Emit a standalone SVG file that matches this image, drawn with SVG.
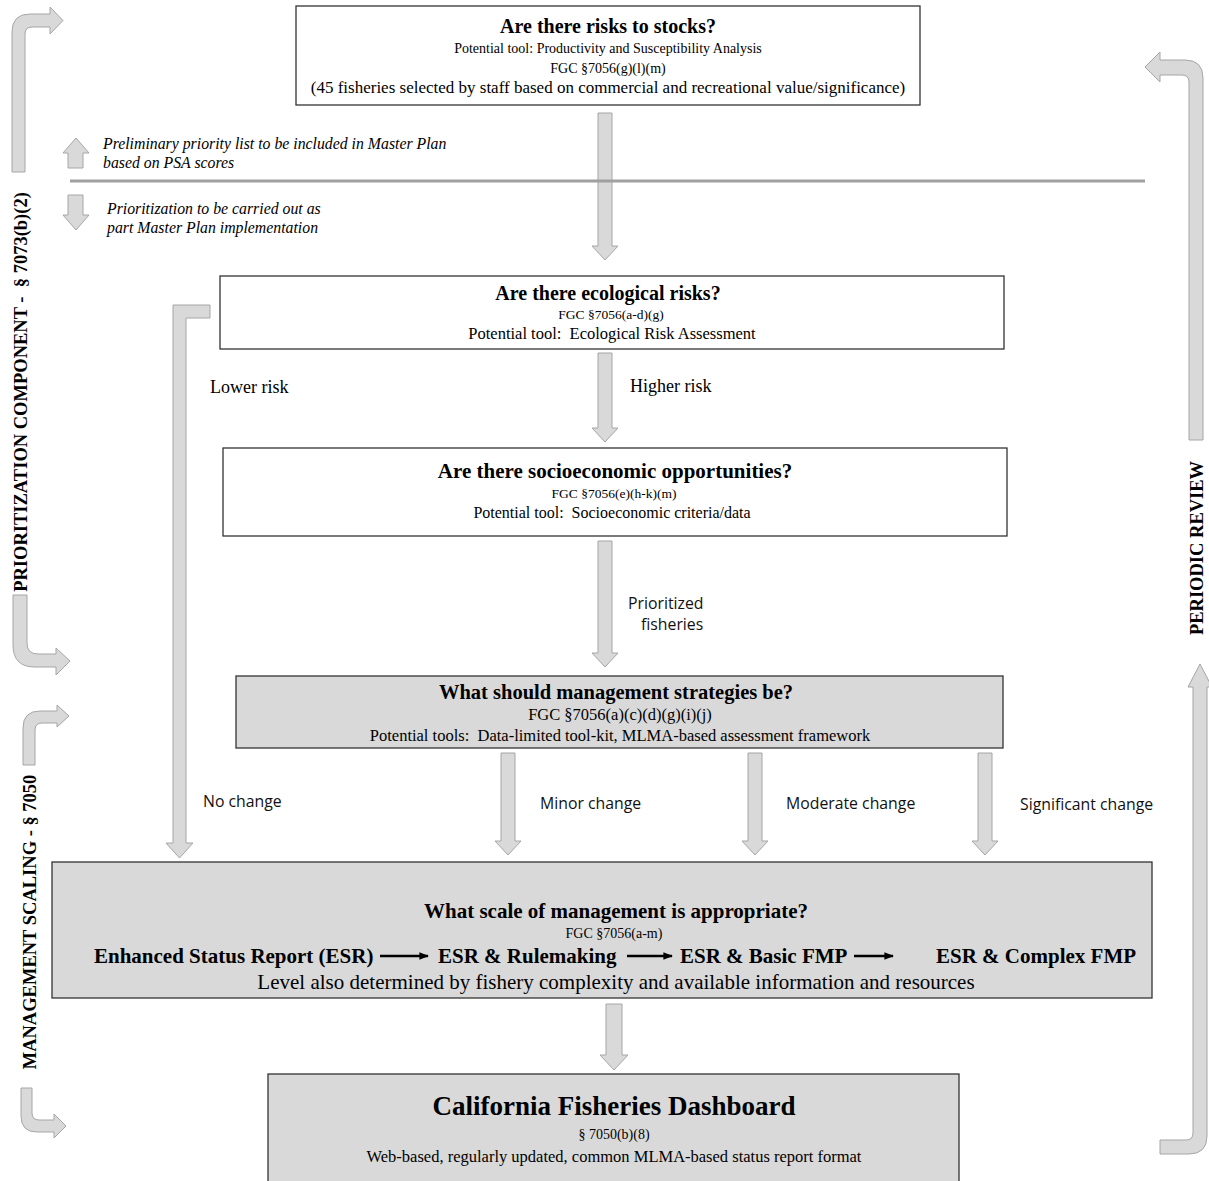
<svg xmlns="http://www.w3.org/2000/svg" width="1209" height="1181" viewBox="0 0 1209 1181">
<defs>
<style>
.box{fill:#ffffff;stroke:#333333;stroke-width:1.3}
.gbox{fill:#d9d9d9;stroke:#333333;stroke-width:1.3}
.blk{fill:#d9d9d9;stroke:#a6a6a6;stroke-width:1}
.t{font-family:"Liberation Serif","Times New Roman",serif;fill:#000}
.h{font-weight:bold;font-size:20px}
.n{font-size:14px}
.m{font-size:16.5px}
.i{font-style:italic;font-size:15.8px}
.s{font-family:"Open Sans","Liberation Sans",sans-serif;font-size:15.8px;fill:#111}
.side{font-family:"Liberation Serif","Times New Roman",serif;font-weight:bold;font-size:18.5px;fill:#000}
</style>
<marker id="ah" viewBox="0 0 10 10" refX="9" refY="5" markerWidth="4" markerHeight="4" orient="auto" markerUnits="strokeWidth">
<path d="M0,1 L10,5 L0,9 Z" fill="#000"/>
</marker>
</defs>
<rect width="1209" height="1181" fill="#ffffff"/>

<g id="connectors">
<path class="blk" d="M598,113 H612 V246 H618 L605,260 L592,246 H598 Z"/>
<path class="blk" d="M598,353 H612 V428 H618 L605,442 L592,428 H598 Z"/>
<path class="blk" d="M598,541 H612 V653 H618 L605,667 L592,653 H598 Z"/>
<path class="blk" d="M501,753 H515 V841 H521 L508,855 L495,841 H501 Z"/>
<path class="blk" d="M748,753 H762 V841 H768 L755,855 L742,841 H748 Z"/>
<path class="blk" d="M978,753 H992 V841 H998 L985,855 L972,841 H978 Z"/>
<path class="blk" d="M606,1004 H622 V1055 H628 L614,1070 L600,1055 H606 Z"/>
<path class="blk" d="M210,305 V318 H186 V843 H193 L179.5,858 L166,843 H173 V305 Z"/>
<line x1="70" y1="181" x2="1145" y2="181" stroke="#a0a0a0" stroke-width="3"/>
<path class="blk" d="M68,168 V153 H63 L76,138 L89,153 H83 V168 Z"/>
<path class="blk" d="M68,195 H83 V215 H89 L76,230 L63,215 H68 Z"/>
<path class="blk" d="M12,172 V32 Q12,14 30,14 H50 V7 L63,20.5 L50,34 V27 H32 Q25,27 25,34 V172 Z"/>
<path class="blk" d="M13,595 H27 V643 Q27,654 38,654 H56 V648 L70,661 L56,675 V667 H35 Q13,667 13,645 Z"/>
<path class="blk" d="M23,765 V728 Q23,711 40,711 H57 V705 L69,716 L57,727 V723 H42 Q35,723 35,730 V765 Z"/>
<path class="blk" d="M21,1088 H32 V1113 Q32,1120 39,1120 H54 V1114 L66,1126 L54,1138 V1132 H37 Q21,1132 21,1116 Z"/>
<path class="blk" d="M1203,440 H1189 V82 Q1189,75 1182,75 H1160 V82 L1145,67 L1160,52 V60 H1185 Q1203,60 1203,78 Z"/>
<path class="blk" d="M1160,1140 H1186 Q1193,1140 1193,1133 V687 H1188 L1200,664 L1212,687 H1207 V1136 Q1207,1154 1189,1154 H1160 Z"/>
</g>

<g id="labels">
<text class="t i" x="103" y="149">Preliminary priority list to be included in Master Plan</text>
<text class="t i" x="103" y="168">based on PSA scores</text>
<text class="t i" x="107" y="214">Prioritization to be carried out as</text>
<text class="t i" x="107" y="233">part Master Plan implementation</text>
<text class="t" x="210" y="393" font-size="18">Lower risk</text>
<text class="t" x="630" y="392" font-size="18">Higher risk</text>
<text class="s" x="628" y="609">Prioritized</text>
<text class="s" x="641" y="630">fisheries</text>
<text class="s" x="203" y="807">No change</text>
<text class="s" x="540" y="809">Minor change</text>
<text class="s" x="786" y="809">Moderate change</text>
<text class="s" x="1020" y="810">Significant change</text>
<text class="side" transform="translate(27,392) rotate(-90)" text-anchor="middle" xml:space="preserve">PRIORITIZATION COMPONENT -  § 7073(b)(2)</text>
<text class="side" transform="translate(36,922) rotate(-90)" text-anchor="middle">MANAGEMENT SCALING - § 7050</text>
<text class="side" transform="translate(1203,548) rotate(-90)" text-anchor="middle">PERIODIC REVIEW</text>
</g>

<g id="node-stocks">
<rect class="box" x="296" y="6" width="624" height="99"/>
<text class="t h" x="608" y="33" text-anchor="middle">Are there risks to stocks?</text>
<text class="t n" x="608" y="53" text-anchor="middle">Potential tool: Productivity and Susceptibility Analysis</text>
<text class="t n" x="608" y="73" text-anchor="middle">FGC §7056(g)(l)(m)</text>
<text class="t" x="608" y="93" font-size="17" text-anchor="middle">(45 fisheries selected by staff based on commercial and recreational value/significance)</text>
</g>

<g id="node-ecological">
<rect class="box" x="220" y="276" width="784" height="73"/>
<text class="t h" x="608" y="300" text-anchor="middle">Are there ecological risks?</text>
<text class="t" x="611" y="319" font-size="13.5" text-anchor="middle">FGC §7056(a-d)(g)</text>
<text class="t m" x="612" y="339" text-anchor="middle" xml:space="preserve">Potential tool:  Ecological Risk Assessment</text>
</g>

<g id="node-socio">
<rect class="box" x="223" y="448" width="784" height="88"/>
<text class="t" x="615" y="478" font-size="21" font-weight="bold" text-anchor="middle">Are there socioeconomic opportunities?</text>
<text class="t" x="614" y="498" font-size="13.5" text-anchor="middle">FGC §7056(e)(h-k)(m)</text>
<text class="t" x="612" y="518" font-size="16" text-anchor="middle" xml:space="preserve">Potential tool:  Socioeconomic criteria/data</text>
</g>

<g id="node-strategies">
<rect class="gbox" x="236" y="676" width="767" height="72"/>
<text class="t" x="616" y="699" font-size="20.5" font-weight="bold" text-anchor="middle">What should management strategies be?</text>
<text class="t m" x="620" y="720" text-anchor="middle">FGC §7056(a)(c)(d)(g)(i)(j)</text>
<text class="t m" x="620" y="741" text-anchor="middle" xml:space="preserve">Potential tools:  Data-limited tool-kit, MLMA-based assessment framework</text>
</g>

<g id="node-scale">
<rect class="gbox" x="52" y="862" width="1100" height="136"/>
<text class="t" x="616" y="918" font-size="21" font-weight="bold" text-anchor="middle">What scale of management is appropriate?</text>
<text class="t n" x="614" y="938" text-anchor="middle">FGC §7056(a-m)</text>
<text class="t" x="94" y="963" font-size="21" font-weight="bold">Enhanced Status Report (ESR)</text>
<line x1="380" y1="956" x2="428" y2="956" stroke="#000" stroke-width="2.4" marker-end="url(#ah)"/>
<text class="t" x="438" y="963" font-size="21" font-weight="bold">ESR &amp; Rulemaking</text>
<line x1="627" y1="956" x2="672" y2="956" stroke="#000" stroke-width="2.4" marker-end="url(#ah)"/>
<text class="t" x="680" y="963" font-size="21" font-weight="bold">ESR &amp; Basic FMP</text>
<line x1="854" y1="956" x2="893" y2="956" stroke="#000" stroke-width="2.4" marker-end="url(#ah)"/>
<text class="t" x="936" y="963" font-size="21" font-weight="bold">ESR &amp; Complex FMP</text>
<text class="t" x="616" y="989" font-size="21" text-anchor="middle">Level also determined by fishery complexity and available information and resources</text>
</g>

<g id="node-dashboard">
<rect class="gbox" x="268" y="1074" width="691" height="115"/>
<text class="t" x="614" y="1115" font-size="27" font-weight="bold" text-anchor="middle">California Fisheries Dashboard</text>
<text class="t n" x="614" y="1139" text-anchor="middle">§ 7050(b)(8)</text>
<text class="t m" x="614" y="1162" text-anchor="middle">Web-based, regularly updated, common MLMA-based status report format</text>
</g>
</svg>
